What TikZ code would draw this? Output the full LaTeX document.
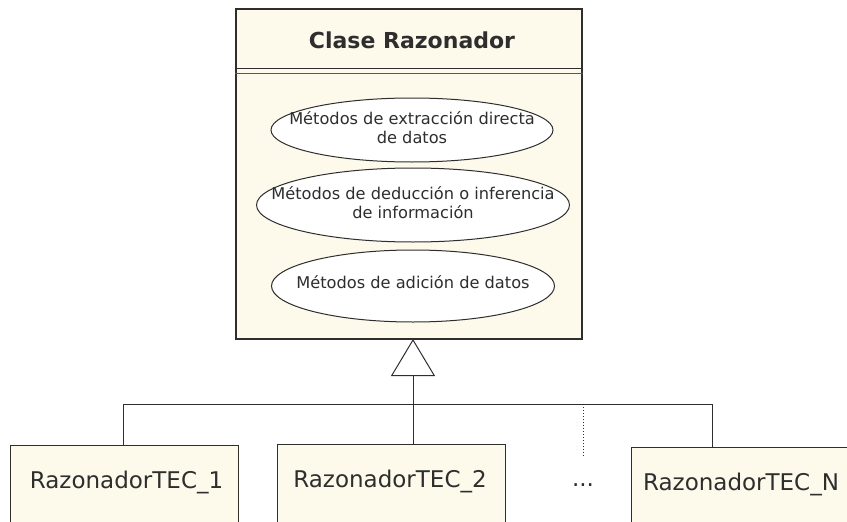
\documentclass[tikz,border=0pt]{standalone}
\usepackage{fontspec}
\setmainfont{DejaVu Sans}
\usetikzlibrary{arrows.meta,positioning,calc,shapes.geometric}
\definecolor{cream}{HTML}{FDFAEB}
\definecolor{ink}{HTML}{2E2E2E}

\begin{document}
\begin{tikzpicture}[x=1pt,y=-1pt,
    classbox/.style={draw=ink,fill=cream,line width=1.2pt,inner sep=0pt},
    method/.style={ellipse,draw=ink,fill=white,line width=1pt,inner sep=0pt},
    methodtext/.style={align=center,font=\fontsize{16.2}{19}\selectfont,text=ink},
    subtext/.style={font=\fontsize{23}{27}\selectfont,text=ink}]
  \useasboundingbox (0,0) rectangle (847,522);
  \clip (0,0) rectangle (847,522);
  \node[classbox,minimum width=346pt,minimum height=330pt] (razonador) at (409,174) {};
  \draw[ink,line width=1.2pt] ($(razonador.north west)+(0,60)$) -- ($(razonador.north east)+(0,60)$);
  \draw[ink!80,line width=1pt] ($(razonador.north west)+(0,65)$) -- ($(razonador.north east)+(0,65)$);
  \node[font=\fontsize{22}{26}\selectfont\bfseries,text=ink] (titulo) at (412,40) {Clase Razonador};
  \node[method,minimum width=282pt,minimum height=64pt] (extraccion) at (412,130) {};
  \node[methodtext] (extraccion-txt) at ([yshift=2pt]extraccion.center) {Métodos de extracción directa\\de datos};
  \node[method,minimum width=313pt,minimum height=74pt] (deduccion) at (413,205) {};
  \node[methodtext] (deduccion-txt) at ([yshift=2pt]deduccion.center) {Métodos de deducción o inferencia\\de información};
  \node[method,minimum width=283pt,minimum height=72pt] (adicion) at (413,286) {};
  \node[methodtext] (adicion-txt) at ([yshift=4pt]adicion.center) {Métodos de adición de datos};
  \foreach \nombre/\x/\y/\dx/\lab in {tec1/124.5/445/2/1, tec2/391/444/-1/2, tecN/745/447/-4/N}{
    \node[classbox,line width=1pt,minimum width=228pt,minimum height=110pt,anchor=north] (\nombre) at (\x,\y) {};
    \node[subtext] (\nombre-lab) at ([xshift=\dx pt,yshift=-37pt]\nombre.north) {RazonadorTEC\_\lab};
  }
  \coordinate (apex) at (413,339);
  \coordinate (busL) at (123,404);
  \coordinate (busR) at (712,404);
  \coordinate (busM) at (583,404);
  \coordinate (finpuntos) at (583,457);
  \draw[ink,line width=1pt,-{Triangle[open,length=37pt,width=44pt,line width=1pt]}] (apex |- tec2.north) -- (apex);
  \draw[ink,line width=1pt] (tec1.north -| busL) -- (busL) -- (busR) -- (tecN.north -| busR);
  \draw[ink,dotted,line width=1pt] (busM) -- (finpuntos);
  \node[subtext] (puntos) at (583,485) {...};
\end{tikzpicture}
\end{document}
